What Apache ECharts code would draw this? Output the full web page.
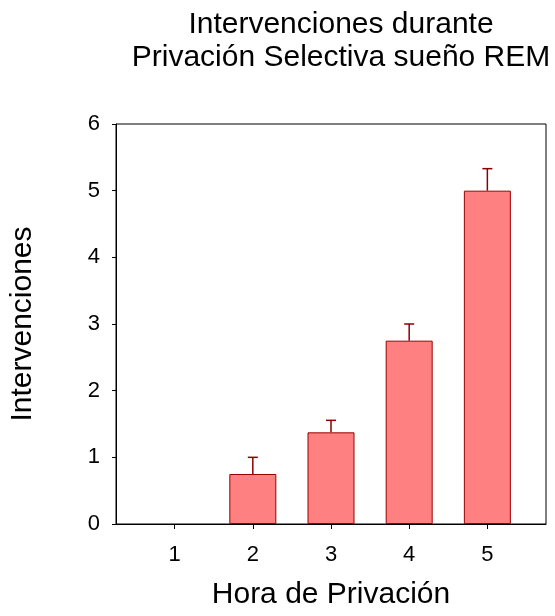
<!DOCTYPE html>
<html>
<head>
<meta charset="utf-8">
<script src="https://cdn.jsdelivr.net/npm/echarts@6/dist/echarts.min.js"></script>
<style>
html, body { margin: 0; padding: 0; background: #fff; }
#container { width: 555px; height: 616px; }
</style>
</head>
<body>
<div id="container"></div>
<script>
// datos
var horas = [1, 2, 3, 4, 5];
var intervenciones = [0, 0.75, 1.375, 2.75, 5];
var errores = [0, 0.25, 0.18, 0.25, 0.33];
var yTicks = [0, 1, 2, 3, 4, 5, 6];

var fuente = 'Liberation Sans, Arial, sans-serif';
var dom = document.getElementById("container");
var myChart = echarts.init(dom);

// barras de altura 0 no se dibujan (sin borde)
var barData = horas.map(function (h, i) {
    var d = { value: [h, intervenciones[i]] };
    if (intervenciones[i] === 0) {
        d.itemStyle = { borderWidth: 0, opacity: 0 };
    }
    return d;
});
var errData = horas.map(function (h, i) { return [h, intervenciones[i], intervenciones[i] + errores[i]]; });

var option = {
    backgroundColor: '#fff',
    animation: false,
    title: {
        text: 'Intervenciones durante\nPrivación Selectiva sueño REM',
        left: 341,
        top: 8,
        padding: 0,
        textAlign: 'center',
        textStyle: {
            fontFamily: fuente,
            fontSize: 30,
            fontWeight: 'normal',
            color: '#000',
            lineHeight: 33
        }
    },
    grid: {
        left: 116,
        right: 9,
        top: 124,
        bottom: 92,
        show: true,
        borderColor: '#000',
        borderWidth: 1,
        containLabel: false
    },
    xAxis: {
        type: 'value',
        min: 0.25,
        max: 5.75,
        name: 'Hora de Privación',
        nameLocation: 'middle',
        nameGap: 56,
        nameTextStyle: { fontFamily: fuente, fontSize: 30, color: '#000' },
        axisLine: { show: true, lineStyle: { color: '#000', width: 1 } },
        axisTick: { show: true, length: 5, customValues: horas, lineStyle: { color: '#000' } },
        axisLabel: { customValues: horas, margin: 20, fontFamily: fuente, fontSize: 22, color: '#000' },
        splitLine: { show: false }
    },
    yAxis: {
        type: 'value',
        min: 0,
        max: 6,
        interval: 1,
        name: 'Intervenciones',
        nameLocation: 'middle',
        nameGap: 78,
        nameTextStyle: { fontFamily: fuente, fontSize: 30, color: '#000' },
        axisLine: { show: true, lineStyle: { color: '#000', width: 1 } },
        axisTick: { show: true, length: 4, lineStyle: { color: '#000' } },
        axisLabel: { margin: 16, fontFamily: fuente, fontSize: 22, color: '#000' },
        splitLine: { show: false }
    },
    series: [
        {
            type: 'bar',
            data: barData,
            barWidth: 47,
            itemStyle: {
                color: '#ff8080',
                borderColor: '#990000',
                borderWidth: 1
            }
        },
        {
            type: 'custom',
            data: errData,
            z: 1,
            renderItem: function (params, api) {
                var x = api.value(0);
                var base = api.coord([x, api.value(1)]);
                var top = api.coord([x, api.value(2)]);
                if (api.value(2) <= api.value(1)) {
                    return null;
                }
                var half = 5;
                var estilo = { stroke: '#8b0000', lineWidth: 1.5 };
                return {
                    type: 'group',
                    children: [
                        { type: 'line', shape: { x1: base[0], y1: base[1], x2: top[0], y2: top[1] }, style: estilo },
                        { type: 'line', shape: { x1: top[0] - half, y1: top[1], x2: top[0] + half, y2: top[1] }, style: estilo }
                    ]
                };
            }
        }
    ]
};
myChart.setOption(option);
</script>
</body>
</html>
